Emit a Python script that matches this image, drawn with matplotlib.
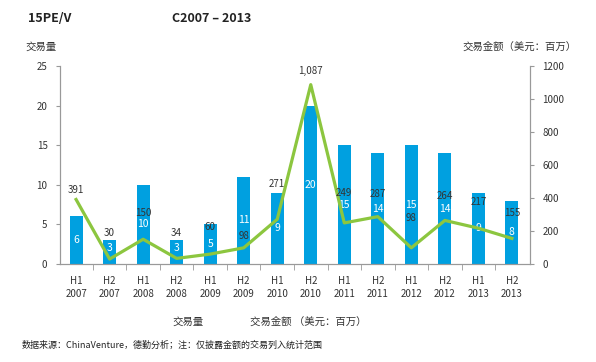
import matplotlib.pyplot as plt
import numpy as np

plt.rcParams['font.family'] = ['Noto Sans CJK SC', 'DejaVu Sans']

periods = ["H1\n2007", "H2\n2007", "H1\n2008", "H2\n2008", "H1\n2009", "H2\n2009", "H1\n2010",
           "H2\n2010", "H1\n2011", "H2\n2011", "H1\n2012", "H2\n2012", "H1\n2013", "H2\n2013"]
deal_count = [6, 3, 10, 3, 5, 11, 9, 20, 15, 14, 15, 14, 9, 8]
deal_amount = [391, 30, 150, 34, 60, 98, 271, 1087, 249, 287, 98, 264, 217, 155]

# label offsets above the line points (points)
amount_offset = [3, 15, 15, 15, 16, 5, 22, 6, 18, 13, 18, 14, 15, 15]

blue = "#00a0e0"
green = "#8cc63f"
grey = "#999999"
txt = "#333333"

fig = plt.figure(figsize=(5.96, 3.62), dpi=100)
ax = fig.add_axes([60 / 596, 1 - 264 / 362, 470 / 596, 198 / 362])
ax2 = ax.twinx()

x = np.arange(len(periods))
ax.bar(x, deal_count, width=0.39, color=blue, zorder=2)
for xi, v in zip(x, deal_count):
    ax.text(xi, max(v / 2, 2), str(v), color="white", ha="center", va="center", fontsize=7.5, zorder=5)

ax2.plot(x, deal_amount, color=green, lw=2.3, zorder=3)
for xi, v, off in zip(x, deal_amount, amount_offset):
    ax2.annotate(f"{v:,}", (xi, v), xytext=(0, off), textcoords="offset points",
                 ha="center", va="bottom", fontsize=7, color=txt)

ax.set_xlim(-0.48, 13.54)
ax.set_ylim(0, 25)
ax2.set_ylim(0, 1200)
ax.set_yticks([0, 5, 10, 15, 20, 25])
ax2.set_yticks([0, 200, 400, 600, 800, 1000, 1200])
ax.set_xticks(x)
ax.set_xticklabels(periods, fontsize=7, color=txt, linespacing=1.3)
ax.set_xticks(x[:-1] + 0.5, minor=True)
ax.tick_params(axis="x", which="major", length=0, pad=9)
ax.tick_params(axis="x", which="minor", length=4, color=grey)
ax.tick_params(axis="y", length=3, color=grey, labelsize=7, labelcolor=txt, pad=6)
ax2.tick_params(axis="y", length=3, color=grey, labelsize=7, labelcolor=txt, pad=6)

for a in (ax, ax2):
    a.spines["top"].set_visible(False)
    for s in ("left", "right", "bottom"):
        a.spines[s].set_color(grey)
        a.spines[s].set_linewidth(0.8)

ax2.set_zorder(ax.get_zorder() + 1)
ax2.patch.set_visible(False)

fig.text(28 / 596, 1 - 18 / 362, "15PE/V", fontsize=9, fontweight="bold", color="#222222", va="center")
fig.text(172 / 596, 1 - 18 / 362, "C2007 – 2013", fontsize=9, fontweight="bold", color="#222222", va="center")
fig.text(25 / 596, 1 - 47 / 362, "交易量", fontsize=7.5, color=txt, va="center")
fig.text(577 / 596, 1 - 47 / 362, "交易金额（美元：百万）", fontsize=7.5, color=txt, va="center", ha="right")
fig.text(172 / 596, 1 - 322 / 362, "交易量", fontsize=7.5, color=txt, va="center")
fig.text(250 / 596, 1 - 322 / 362, "交易金额 （美元：百万）", fontsize=7.5, color=txt, va="center")
fig.text(22 / 596, 1 - 345 / 362, "数据来源：ChinaVenture，德勤分析；注：仅披露金额的交易列入统计范围",
         fontsize=6.5, color="#222222", va="center")

fig.savefig("out.png", dpi=100)
